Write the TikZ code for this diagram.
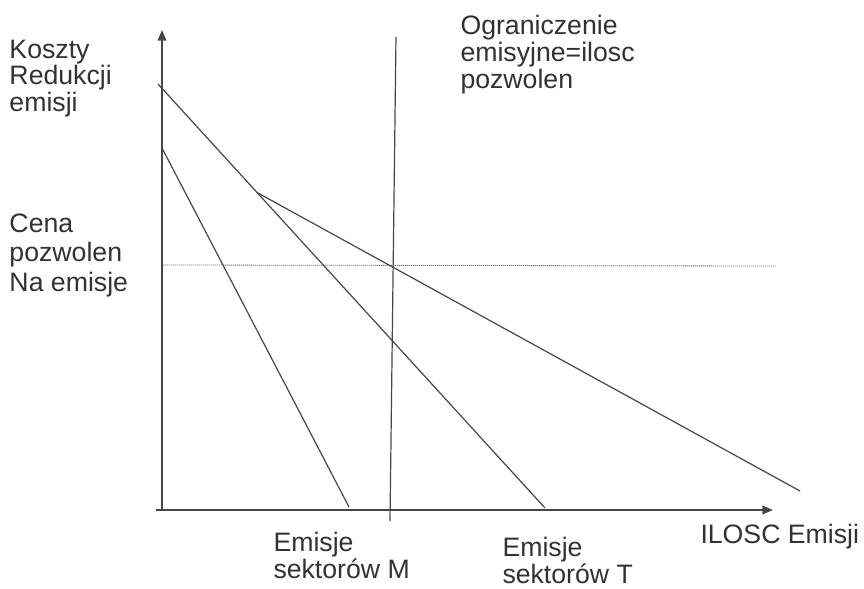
\documentclass[tikz,border=0pt]{standalone}
\usepackage{fontspec}
\setmainfont{Liberation Sans}
\usetikzlibrary{arrows.meta}

\tikzset{every picture/.style={line width=0.75pt}}
\tikzset{
  curve/.style={draw={rgb, 255:red, 70; green, 70; blue, 70}, line width=0.9pt},
  axis/.style={curve, line width=1.1pt, -{Triangle[length=8pt,width=6.5pt]}},
  label/.style={inner sep=0pt, anchor=base west, align=left, text={rgb, 255:red, 50; green, 50; blue, 50}},
}

\begin{document}
\begin{tikzpicture}[x=0.75pt,y=0.75pt,yscale=-1,xscale=1]
	\useasboundingbox (0,0) rectangle (864,589);

	%Points
	\coordinate (origin) at (162,510);
	\coordinate (ytip) at (162,30);
	\coordinate (xstart) at (156,510);
	\coordinate (xtip) at (773,510);
	\coordinate (captop) at (396,37);
	\coordinate (capbot) at (390,521);
	\coordinate (pricel) at (163,265);
	\coordinate (pricer) at (776,266);
	\coordinate (mtop) at (162,148);
	\coordinate (mend) at (349,507);
	\coordinate (ttop) at (158,84);
	\coordinate (tend) at (545,508);
	\coordinate (kink) at (257,192.5);
	\coordinate (aend) at (800,491);

	%Axes
	\draw [axis] (origin) -- (ytip);
	\draw [axis] (xstart) -- (xtip);
	%Emission cap
	\draw [curve] (captop) -- (capbot);
	%Permit price
	\draw [draw={rgb, 255:red, 110; green, 110; blue, 110}, line width=0.6pt, dash pattern=on 1pt off 0.5pt] (pricel) -- (pricer);
	%Sector M
	\draw [curve] (mtop) -- (mend);
	%Sector T
	\draw [curve] (ttop) -- (tend);
	%Aggregate
	\draw [curve] (kink) -- (aend);

	% Text Node (base = last line)
	\node [label, font=\fontsize{20}{19.8}\selectfont] (ylabel) at (9,111) {Koszty\\Redukcji\\emisji};
	% Text Node
	\node [label, font=\fontsize{20}{22.2}\selectfont] (pricelabel) at (9,291.5) {Cena\\pozwolen\\Na emisje};
	% Text Node
	\node [label, font=\fontsize{20}{20}\selectfont] (caplabel) at (460,88) {Ograniczenie\\emisyjne=ilosc\\pozwolen};
	% Text Node
	\node [label, font=\fontsize{20}{20}\selectfont] (mlabel) at (273,578) {Emisje\\sektorów M};
	% Text Node
	\node [label, font=\fontsize{20}{20}\selectfont] (tlabel) at (502,583) {Emisje\\sektorów T};
	% Text Node
	\node [label, font=\fontsize{20}{20}\selectfont] (xlabel) at (700,543) {ILOSC Emisji};

\end{tikzpicture}
\end{document}
